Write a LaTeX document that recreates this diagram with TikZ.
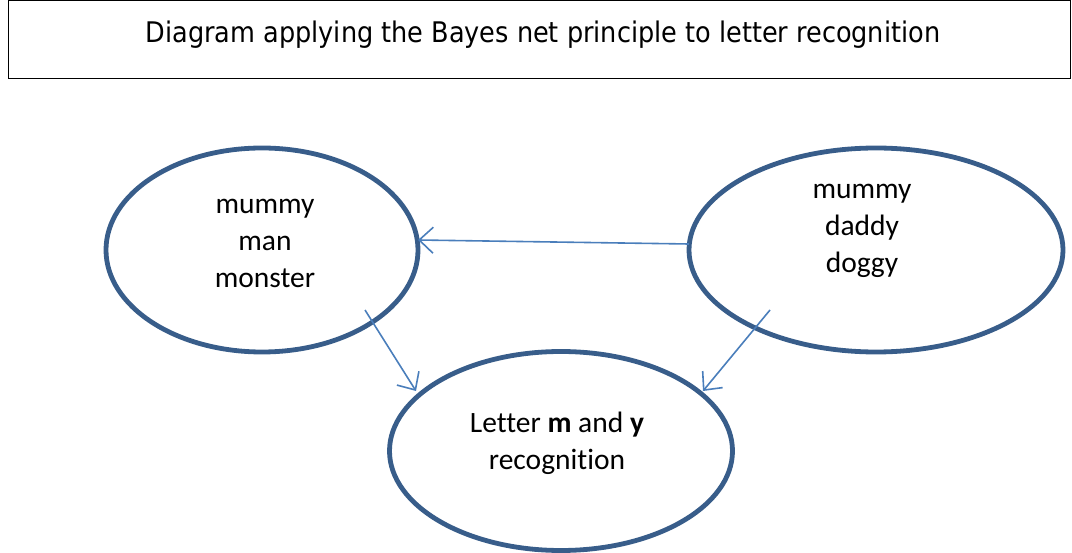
\documentclass[tikz,border=0pt]{standalone}
\usepackage{fontspec}
\setmainfont[Ligatures=NoCommon]{Carlito}
\newfontfamily\titlefont{DejaVu Sans Condensed}
\usetikzlibrary{arrows.meta,shapes.geometric}
\definecolor{ringblue}{HTML}{385D8A}
\definecolor{linkblue}{HTML}{4A7EBB}
\tikzset{
  bubble/.style={draw=ringblue, line width=4.8pt, ellipse, inner sep=0pt},
  bubbletext/.style={align=center, font=\fontsize{29.5}{37}\selectfont},
  link/.style={draw=linkblue, line width=1.6pt,
    -{Straight Barb[length=14pt,width=26pt,line width=1.6pt]}},
}
\begin{document}
\begin{tikzpicture}[x=1pt,y=-1pt]
  \useasboundingbox (0,0) rectangle (1072,553);
  % title box
  \node[draw=black, line width=1pt, minimum width=1062pt, minimum height=78pt,
        inner sep=0pt] (title) at (539,40) {};
  \node[font=\titlefont\fontsize{28.4}{32}\selectfont] (titletext) at (543,35)
    {Diagram applying the Bayes net principle to letter recognition};
  % the three nodes of the net
  \node[bubble, minimum width=312pt, minimum height=204pt] (left) at (262,250) {};
  \node[bubble, minimum width=374pt, minimum height=204pt] (right) at (876,250) {};
  \node[bubble, minimum width=343pt, minimum height=199pt] (bottom) at (561,451) {};
  \node[bubbletext] (lefttext) at (265,243) {mummy\\man\\monster};
  \node[bubbletext] (righttext) at (862,231) {mummy\\daddy\\doggy};
  \node[bubbletext] (bottomtext) at (557,443) {Letter \textbf{m} and \textbf{y}\\recognition};
  % links
  \coordinate (r1) at (689,244);
  \coordinate (l1) at (418,240);
  \coordinate (l2) at (365,310);
  \coordinate (b1) at (416,391);
  \coordinate (r2) at (770,310);
  \coordinate (b2) at (703,391);
  \draw[link] (r1) -- (l1);
  \draw[link] (l2) -- (b1);
  \draw[link] (r2) -- (b2);
\end{tikzpicture}
\end{document}
